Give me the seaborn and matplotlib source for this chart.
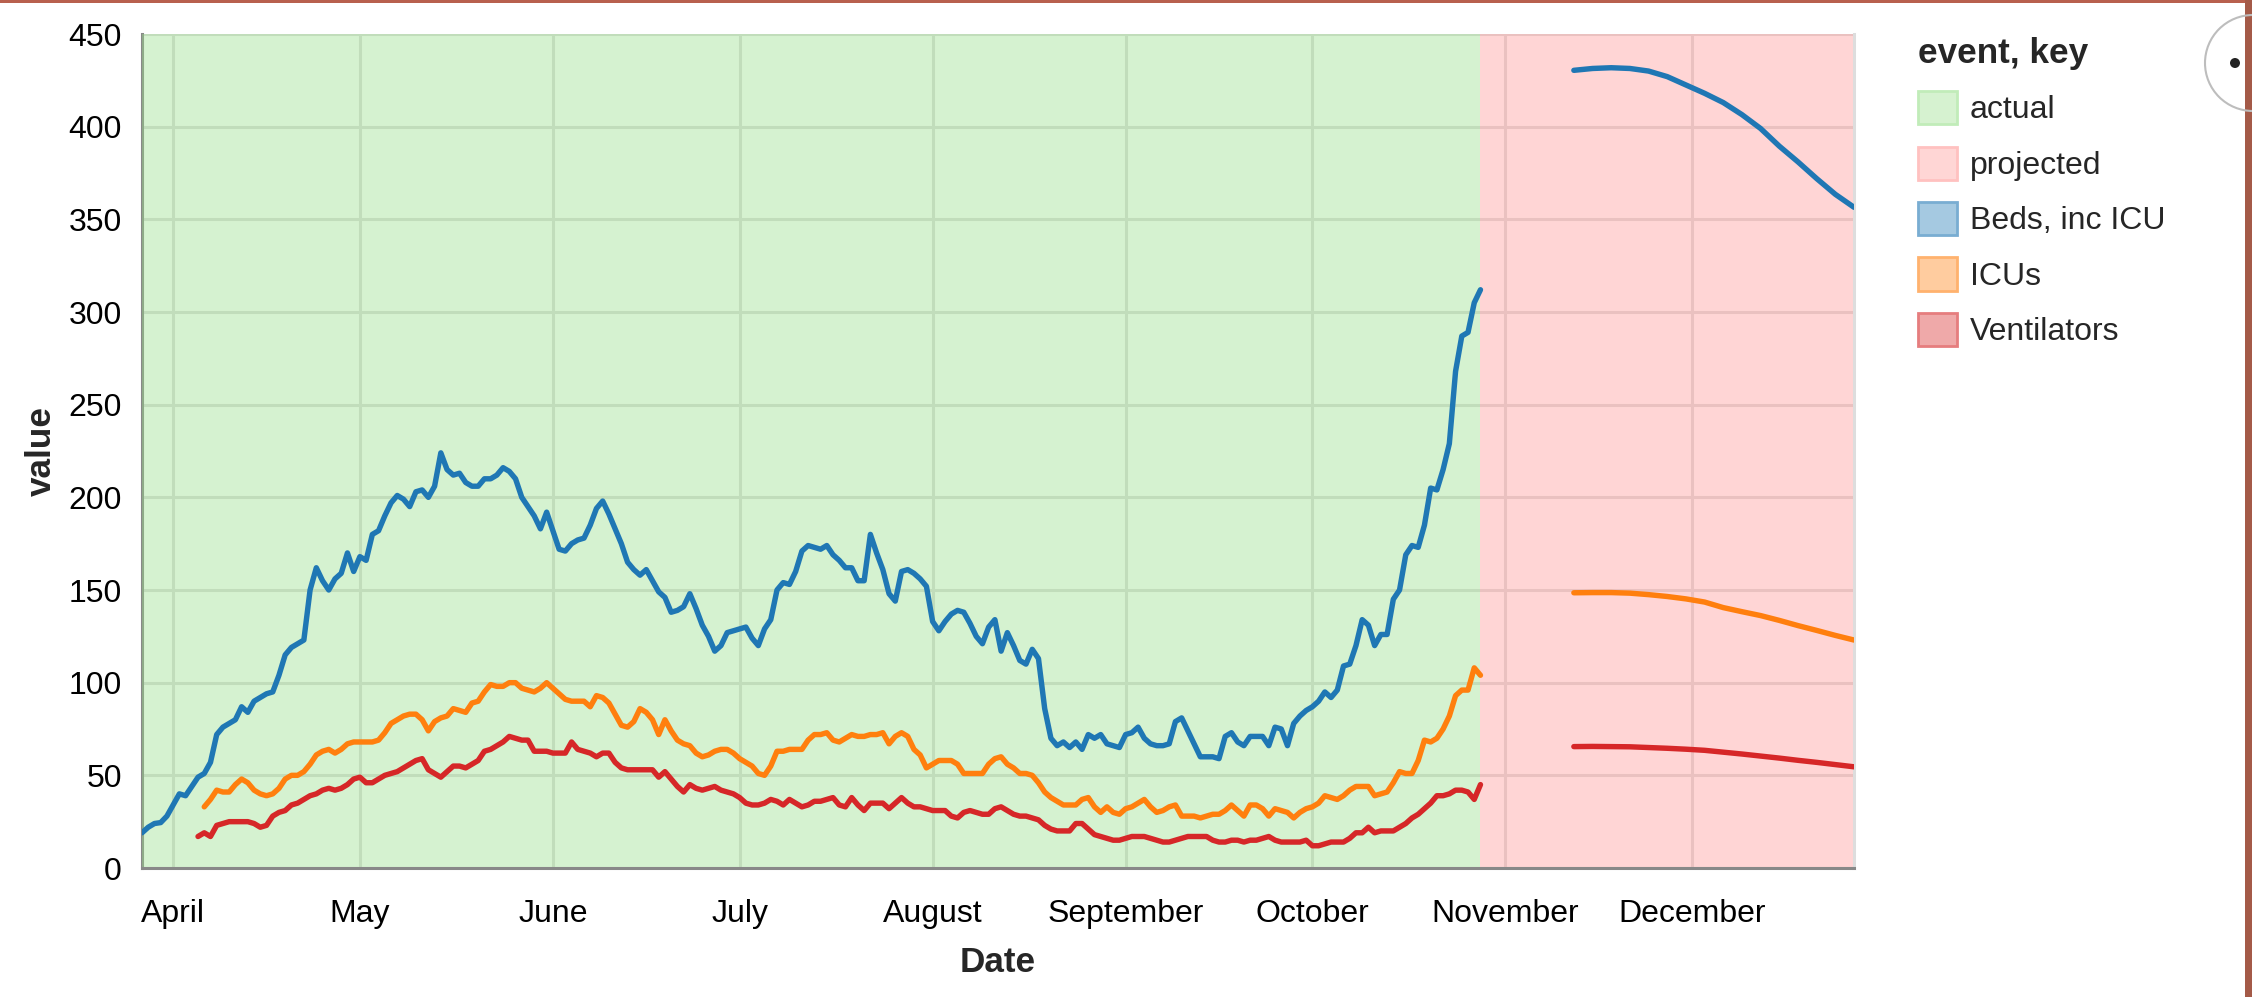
import matplotlib
matplotlib.use("Agg")
import matplotlib.pyplot as plt
import matplotlib.dates as mdates
from matplotlib.patches import Patch, Rectangle, Ellipse
import pandas as pd
import seaborn as sns

# dates
start_date = "2020-03-27"
icus_start = "2020-04-06"
vents_start = "2020-04-05"
last_actual = "2020-10-28"
proj_start = "2020-11-12"
end_date = "2020-12-27"

# daily actual values
beds_actual = [
    19, 22, 24, 24.5, 28, 34, 40, 39, 44, 49, 51, 57, 72, 76, 78, 80, 87, 84, 90, 92,
    94, 95, 104, 115, 119, 121, 123, 150, 162, 155, 150, 156, 159, 170, 160, 168, 166, 180, 182, 190,
    197, 201, 199, 195, 203, 204, 200, 206, 224, 215, 212, 213, 208, 206,
    206, 210, 210, 212, 216, 214, 210, 200, 195, 190, 183, 192, 182, 172, 171, 175, 177, 178, 185, 194,
    198, 191, 183, 175, 165, 161, 158, 161, 155, 149, 146, 138, 139, 141, 148, 140, 131, 125, 117, 120,
    127, 128, 129, 130, 124, 120, 129, 134, 150, 154, 153, 160, 171, 174, 173,
    172, 174, 169, 166, 162, 162, 155, 155, 180, 170, 161, 148, 144, 160, 161, 159, 156, 152, 133, 128,
    133, 137, 139, 138, 132, 125, 121, 130, 134, 117, 127, 120, 112, 110, 118, 113, 86, 70, 66, 68,
    65, 68, 64, 72, 70, 72, 67, 66, 65, 72, 73, 76, 70, 67, 66,
    66, 67, 79, 81, 74, 67, 60, 60, 60, 59, 71, 73, 68, 66, 71, 71, 71, 66, 76, 75,
    66, 78, 82, 85, 87, 90, 95, 92, 96, 109, 110, 120, 134, 131, 120, 126, 126, 145, 150, 169,
    174, 173, 185, 205, 204, 215, 229, 268, 287, 289, 305, 312,
]
icus_actual = [
    33, 37, 42, 41, 41, 45, 48, 46, 42, 40, 39, 40, 43, 48, 50, 50, 52, 56, 61, 63,
    64, 62, 64, 67, 68, 68, 68, 68, 69, 73, 78, 80, 82, 83, 83, 80, 74, 79, 81, 82,
    86, 85, 84, 89,
    90, 95, 99, 98, 98, 100, 100, 97, 96, 95, 97, 100, 97, 94, 91, 90, 90, 90, 87, 93,
    92, 89, 83, 77, 76, 79, 86, 84, 80, 72, 80, 74, 69, 67, 66, 62, 60, 61, 63, 64,
    64, 62, 59, 57, 55, 51, 50, 55, 63, 63, 64, 64, 64, 69, 72,
    72, 73, 69, 68, 70, 72, 71, 71, 72, 72, 73, 67, 71, 73, 71, 64, 61, 54, 56, 58,
    58, 58, 56, 51, 51, 51, 51, 56, 59, 60, 56, 54, 51, 51, 50, 46, 41, 38, 36, 34,
    34, 34, 37, 38, 33, 30, 33, 30, 29, 32, 33, 35, 37, 33, 30,
    31, 33, 34, 28, 28, 28, 27, 28, 29, 29, 31, 34, 31, 28, 34, 34, 32, 28, 32, 31,
    30, 27, 30, 32, 33, 35, 39, 38, 37, 39, 42, 44, 44, 44, 39, 40, 41, 46, 52, 51,
    51, 58, 69, 68, 70, 75, 82, 93, 96, 96, 108, 104,
]
vents_actual = [
    17, 19, 17, 23, 24, 25, 25, 25, 25, 24, 22, 23, 28, 30, 31, 34, 35, 37, 39, 40,
    42, 43, 42, 43, 45, 48, 49, 46, 46, 48, 50, 51, 52, 54, 56, 58, 59, 53, 51, 49,
    52, 55, 55, 54, 56,
    58, 63, 64, 66, 68, 71, 70, 69, 69, 63, 63, 63, 62, 62, 62, 68, 64, 63, 62, 60,
    62, 62, 57, 54, 53, 53, 53, 53, 53, 49, 52, 48, 44, 41, 45, 43, 42, 43, 44, 42,
    41, 40, 38, 35, 34, 34, 35, 37, 36, 34, 37, 35, 33, 34, 36,
    36, 37, 38, 34, 33, 38, 34, 31, 35, 35, 35, 32, 35, 38, 35, 33, 33, 32, 31, 31,
    31, 28, 27, 30, 31, 30, 29, 29, 32, 33, 31, 29, 28, 28, 27, 26, 23, 21, 20, 20,
    20, 24, 24, 21, 18, 17, 16, 15, 15, 16, 17, 17, 17, 16, 15,
    14, 14, 15, 16, 17, 17, 17, 17, 15, 14, 14, 15, 15, 14, 15, 15, 16, 17, 15, 14,
    14, 14, 14, 15, 12, 12, 13, 14, 14, 14, 16, 19, 19, 22, 19, 20, 20, 20, 22, 24,
    27, 29, 32, 35, 39, 39, 40, 42, 42, 41, 37, 45,
]

# projected values, one every 3 days from proj_start
proj_step = "3D"
beds_projected = [430.4, 431.4, 431.8, 431.4, 430, 427, 422.5, 418, 413, 406.5,
                  399, 389.5, 381, 372, 363.5, 356.5]
icus_projected = [148.5, 148.6, 148.6, 148.3, 147.5, 146.5, 145.2, 143.5, 140.5, 138.3,
                  136.2, 133.6, 130.8, 128.2, 125.5, 123]
vents_projected = [65.5, 65.6, 65.5, 65.4, 65, 64.6, 64.1, 63.5, 62.5, 61.5,
                   60.4, 59.3, 58.1, 57, 55.8, 54.6]

keys = ["Beds, inc ICU", "ICUs", "Ventilators"]
events = ["actual", "projected"]
line_colors = ["#1f77b4", "#ff7f0e", "#d62728"]
event_colors = ["#98df8a", "#ff9896"]


def series(values, start, key, freq="D"):
    dates = pd.date_range(start, periods=len(values), freq=freq)
    return pd.DataFrame({"Date": dates, "value": values, "key": key})


actual = pd.concat([
    series(beds_actual, start_date, keys[0]),
    series(icus_actual, icus_start, keys[1]),
    series(vents_actual, vents_start, keys[2]),
], ignore_index=True)

projected = pd.concat([
    series(beds_projected, proj_start, keys[0], proj_step),
    series(icus_projected, proj_start, keys[1], proj_step),
    series(vents_projected, proj_start, keys[2], proj_step),
], ignore_index=True)

sns.set_style("white")
plt.rcParams["font.family"] = ["Liberation Sans", "DejaVu Sans"]

W, H = 2252, 997
fig = plt.figure(figsize=(W / 100, H / 100), dpi=100)
ax = fig.add_axes([142 / W, (H - 868) / H, 1712 / W, 834 / H])

palette = dict(zip(keys, line_colors))
for df in (actual, projected):
    sns.lineplot(data=df, x="Date", y="value", hue="key", hue_order=keys, palette=palette,
                 estimator=None, legend=False, linewidth=3.9, ax=ax, zorder=3)

ax.axvspan(pd.Timestamp(start_date), pd.Timestamp(last_actual), color=event_colors[0],
           alpha=0.4, lw=0, zorder=1)
ax.axvspan(pd.Timestamp(last_actual), pd.Timestamp(end_date), color=event_colors[1],
           alpha=0.4, lw=0, zorder=1)

ax.set_xlim(pd.Timestamp(start_date), pd.Timestamp(end_date))
ax.set_ylim(0, 450)
ax.set_yticks(range(0, 451, 50))
ax.xaxis.set_major_locator(mdates.MonthLocator())
ax.xaxis.set_major_formatter(mdates.DateFormatter("%B"))

ax.set_axisbelow(True)
ax.grid(True, color="#dddddd", linewidth=2.2)
ax.tick_params(length=11.5, width=2.2, color="#888888", labelsize=23, labelcolor="#000000", pad=3)
ax.tick_params(axis="x", pad=11)

ax.spines["top"].set_visible(False)
ax.spines["right"].set_color("#dddddd")
ax.spines["right"].set_linewidth(2.2)
for s in ["left", "bottom"]:
    ax.spines[s].set_color("#888888")
    ax.spines[s].set_linewidth(2.2)
ax.spines["left"].set_zorder(0.8)

ax.set_xlabel("Date", fontsize=25.3, fontweight="bold", labelpad=12)
ax.set_ylabel("value", fontsize=25.3, fontweight="bold", labelpad=8)

# legend: event and key share one colour legend
face = ["#d6f2d0", "#ffd6d5", "#a5c9e1", "#ffcc9f", "#efa9a9"]
edge = ["#c1ecb9", "#ffc1c0", "#79add2", "#ffb26e", "#e67d7e"]
handles = [Patch(facecolor=f, edgecolor=e, linewidth=2) for f, e in zip(face, edge)]
fig.legend(handles, events + keys, loc="upper left", bbox_to_anchor=(1918 / W, 1 - 37 / H),
           frameon=False, title="event, key",
           title_fontproperties={"weight": "bold", "size": 25.3}, fontsize=23,
           handlelength=1.22, handleheight=1.22, handletextpad=0.4, labelspacing=0.66,
           borderpad=0, borderaxespad=0, alignment="left")

# screenshot frame bits
fig.add_artist(Rectangle((0, 1 - 3 / H), 1, 3 / H, transform=fig.transFigure,
                         color="#b8604e", lw=0))
fig.add_artist(Rectangle((2245 / W, 0), 7 / W, 1, transform=fig.transFigure,
                         color="#a45a48", lw=0))
fig.add_artist(Ellipse((2253 / W, 1 - 63 / H), 96 / W, 96 / H, transform=fig.transFigure,
                       fill=False, edgecolor="#bdbdbd", lw=1.5))
fig.add_artist(Ellipse((2235 / W, 1 - 63 / H), 10 / W, 10 / H, transform=fig.transFigure,
                       color="#222222", lw=0))

fig.savefig("out.png", dpi=100)
plt.close(fig)
